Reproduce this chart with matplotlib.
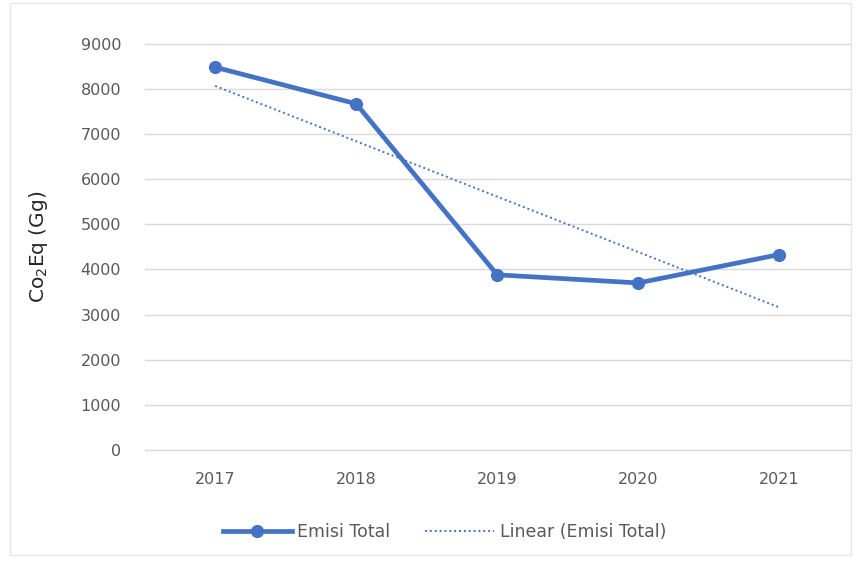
import numpy as np
import matplotlib
matplotlib.use("Agg")
import matplotlib.pyplot as plt
from matplotlib.patches import Rectangle

years = ["2017", "2018", "2019", "2020", "2021"]
emisi_total = [8480, 7670, 3880, 3700, 4330]
y_ticks = [0, 1000, 2000, 3000, 4000, 5000, 6000, 7000, 8000, 9000]

BLUE = "#4472C4"
GRAY = "#595959"

fig = plt.figure(figsize=(8.61, 5.61), dpi=100)
ax = fig.add_axes([0.168, 0.198, 0.819, 0.724])

x = np.arange(len(years))
ax.plot(x, emisi_total, color=BLUE, lw=3.4, marker="o", ms=8.5,
        label="Emisi Total", zorder=3)

# linear trendline (least squares, like Excel)
coef = np.polyfit(x, emisi_total, 1)
ax.plot(x, np.polyval(coef, x), color=BLUE, lw=1.4, ls=(0, (1, 1.5)),
        label="Linear (Emisi Total)", zorder=2)

ax.set_xlim(-0.5, len(years) - 0.5)
ax.set_ylim(0, 9000)
ax.set_xticks(x)
ax.set_xticklabels(years)
ax.set_yticks(y_ticks)
ax.tick_params(axis="both", length=0, labelsize=11.5, colors=GRAY)
ax.tick_params(axis="x", pad=16)
ax.tick_params(axis="y", pad=17)
ax.grid(axis="y", color="#D9D9D9", lw=1)
for gl in ax.get_ygridlines():
    gl.set_clip_on(False)
ax.set_axisbelow(True)
for s in ax.spines.values():
    s.set_visible(False)

ax.set_ylabel("Co$_2$Eq (Gg)", fontsize=14.5, color="#262626", labelpad=22)

fig.legend(*ax.get_legend_handles_labels(), loc="center",
           bbox_to_anchor=(0.516, 0.052), ncol=2,
           frameon=False, fontsize=12.5, labelcolor=GRAY,
           handlelength=4, handletextpad=0.3, columnspacing=2.0)

fig.patches.append(Rectangle((0.012, 0.01), 0.976, 0.985, transform=fig.transFigure,
                             fill=False, ec="#E6E6E6", lw=1))

fig.savefig("out.png", dpi=100)
